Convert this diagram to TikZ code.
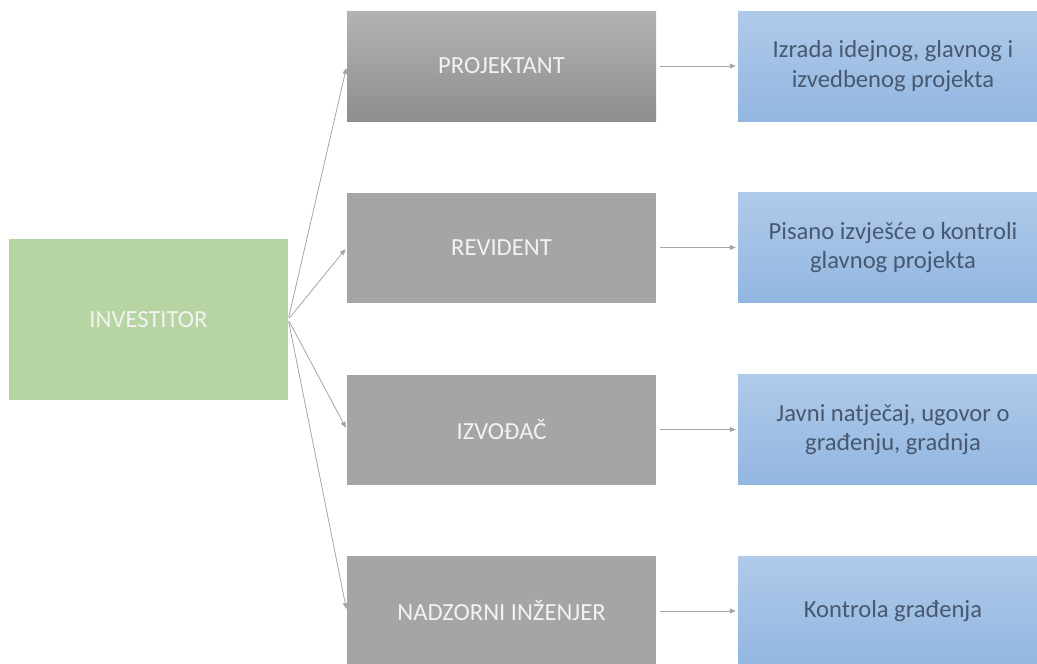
\documentclass[tikz,border=0pt]{standalone}
\usepackage{fontspec}
\setmainfont{Carlito}
\usetikzlibrary{arrows.meta}
\definecolor{invgreen}{HTML}{B7D5A3}
\definecolor{boxgray}{HTML}{A5A5A5}
\definecolor{graytop}{HTML}{B3B3B3}
\definecolor{graybot}{HTML}{8E8E8E}
\definecolor{bluetop}{HTML}{B0CAE9}
\definecolor{bluebot}{HTML}{92B6E1}
\definecolor{bluetext}{HTML}{475870}
\definecolor{arrgray}{HTML}{A6A6A6}
\definecolor{lighttext}{HTML}{F2F2F2}
\tikzset{
  basebox/.style={draw=none, inner sep=0pt, align=center,
    font=\fontsize{24.6}{29.5}\selectfont},
  invbox/.style={basebox, fill=invgreen, text=lighttext,
    minimum width=279pt, minimum height=161pt},
  rolebox/.style={basebox, fill=boxgray, text=lighttext,
    minimum width=309pt, minimum height=110pt},
  rolegrad/.style={rolebox, top color=graytop, bottom color=graybot},
  taskbox/.style={basebox, top color=bluetop, bottom color=bluebot, text=bluetext,
    minimum width=310pt, minimum height=110pt},
  arr/.style={draw=arrgray, line width=0.8pt,
    -{Triangle[length=6pt,width=5pt]}, shorten <=2pt, shorten >=2pt}
}
\begin{document}
\begin{tikzpicture}[x=1pt,y=-1pt]
\useasboundingbox (0,0) rectangle (1037,664);
\clip (0,0) rectangle (1037,664);
\node[invbox] (inv) at (148.5,319.5) {INVESTITOR};
\node[rolegrad] (r1) at (501.5,66) {PROJEKTANT};
\node[rolebox] (r2) at (501.5,247.5) {REVIDENT};
\node[rolebox] (r3) at (501.5,429.5) {IZVOĐAČ};
\node[rolebox] (r4) at (501.5,611) {NADZORNI INŽENJER};
\node[taskbox] (t1) at (893,66) {Izrada idejnog, glavnog i\\izvedbenog projekta};
\node[taskbox] (t2) at (893,247.5) {Pisano izvješće o kontroli\\glavnog projekta};
\node[taskbox] (t3) at (893,429.5) {Javni natječaj, ugovor o\\građenju, gradnja};
\node[taskbox] (t4) at (893,611) {Kontrola građenja};
\foreach \i in {1,2,3,4} {
  \draw[arr] (inv.east) -- (r\i.west);
  \draw[arr, shorten <=4pt] (r\i.east) -- (t\i.west);
}
\end{tikzpicture}
\end{document}
